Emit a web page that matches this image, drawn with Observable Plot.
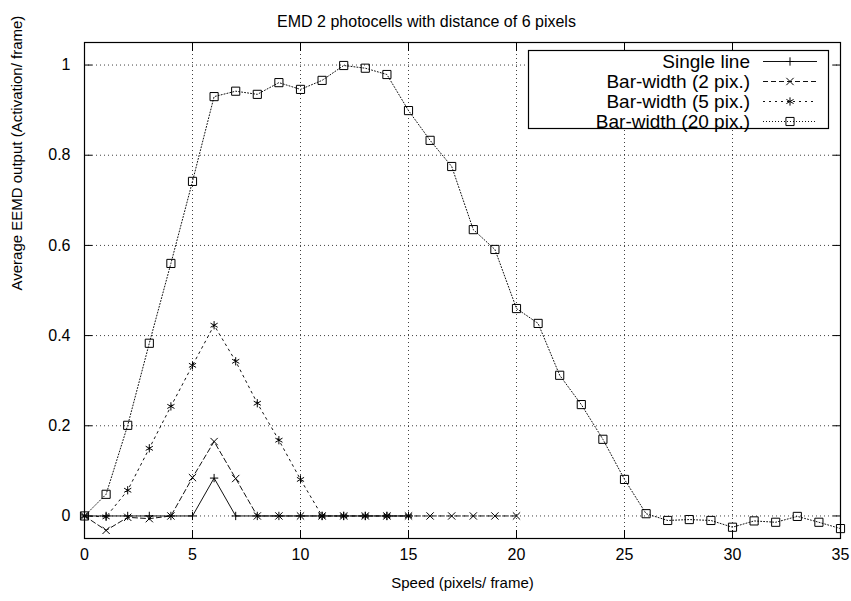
<!DOCTYPE html>
<html><head><meta charset="utf-8">
<script src="https://cdn.jsdelivr.net/npm/d3@7"></script>
<script src="https://cdn.jsdelivr.net/npm/@observablehq/plot@0.6"></script>
<style>
body{margin:0;background:#fff;}
#wrap{position:relative;width:851px;height:601px;font-family:"Liberation Sans",Arial,Helvetica,sans-serif;}
#wrap svg{position:absolute;left:0;top:0;}
</style></head><body><div id="wrap"></div>
<script>
// ---- data ----
const speeds = [0,1,2,3,4,5,6,7,8,9,10,11,12,13,14,15,16,17,18,19,20,21,22,23,24,25,26,27,28,29,30,31,32,33,34,35];
const singleLine = [0,0,0,0,0,0,0.084,0,0,0,0,0,0,0,0,0];
const barWidth2  = [0,-0.032,-0.003,-0.006,0,0.085,0.165,0.083,0,0,0,0,0,0,0,0,0,0,0,0,0];
const barWidth5  = [0,-0.002,0.057,0.150,0.243,0.334,0.423,0.343,0.250,0.168,0.081,0,0,0,0,0];
const barWidth20 = [0,0.048,0.201,0.383,0.560,0.742,0.930,0.942,0.935,0.961,0.946,0.966,0.999,0.993,0.979,0.899,
                    0.833,0.775,0.635,0.591,0.460,0.427,0.312,0.247,0.170,0.081,0.005,-0.010,-0.008,-0.010,
                    -0.025,-0.011,-0.014,-0.001,-0.014,-0.028];
const seriesNames = ["Single line","Bar-width (2 pix.)","Bar-width (5 pix.)","Bar-width (20 pix.)"];
const seriesValues = [singleLine, barWidth2, barWidth5, barWidth20];
const xTicks = [0,5,10,15,20,25,30,35];
const xTickLabels = ["0","5","10","15","20","25","30","35"];
const yTicks = [0,0.2,0.4,0.6,0.8,1];
const yTickLabels = ["0","0.2","0.4","0.6","0.8","1"];
const titleText = "EMD 2 photocells with distance of 6 pixels";
const xLabel = "Speed (pixels/ frame)";
const yLabel = "Average EEMD output (Activation/ frame)";

// ---- styles ----
const styles = [
  {symbol:"plus",     r:2.8,  dash:null},
  {symbol:"times",    r:3.4,  dash:"5,3"},
  {symbol:"asterisk", r:3.9,  dash:"2,4"},
  {symbol:"square",   r:4.6,  dash:"1,2"}
];
const font = '"Liberation Sans",Arial,Helvetica,sans-serif';

const tables = seriesValues.map((vals, s) => vals.map((v, i) => ({x: speeds[i], y: v, s})));

const marks = [
  Plot.gridX(xTicks, {stroke:"#000", strokeOpacity:0.75, strokeDasharray:"1,3"}),
  Plot.gridY(yTicks, {stroke:"#000", strokeOpacity:0.75, strokeDasharray:"1,3"}),
  Plot.frame({stroke:"#000", strokeWidth:1.2}),
  Plot.axisX(xTicks, {anchor:"bottom", tickSize:-8, tickPadding:18, label:null, fontSize:16,
    tickFormat: d => xTickLabels[xTicks.indexOf(d)]}),
  Plot.axisX(xTicks, {anchor:"top", tickSize:-8, label:null, tickFormat: () => ""}),
  Plot.axisY(yTicks, {anchor:"left", tickSize:-8, tickPadding:22, label:null, fontSize:16,
    tickFormat: d => yTickLabels[yTicks.indexOf(d)]}),
  Plot.axisY(yTicks, {anchor:"right", tickSize:-8, label:null, tickFormat: () => ""})
];
tables.forEach((t, s) => {
  marks.push(Plot.line(t, {x:"x", y:"y", stroke:"#111", strokeWidth:1,
    strokeDasharray: styles[s].dash ?? undefined}));
});
tables.forEach((t, s) => {
  marks.push(Plot.dot(t, {x:"x", y:"y", symbol: () => styles[s].symbol, r: styles[s].r,
    stroke:"#000", fill:"none", strokeWidth:1}));
});
marks.push(Plot.text([titleText], {frameAnchor:"top", dy:-27, dx:-36, fontSize:16, text: d => d}));
marks.push(Plot.text([xLabel], {frameAnchor:"bottom", dy:49, fontSize:15, text: d => d}));
marks.push(Plot.text([yLabel], {frameAnchor:"left", dx:-67, rotate:-90, fontSize:15, text: d => d}));

const chart = Plot.plot({
  width: 851, height: 601,
  marginTop: 42, marginRight: 11, marginBottom: 63, marginLeft: 84,
  x: {domain: [0, 35]},
  y: {domain: [-0.05, 1.05]},
  symbol: {type: "identity"},
  style: {fontFamily: font, fontSize: "16px", background: "#fff", color: "#000"},
  marks
});
document.getElementById("wrap").appendChild(chart);

// ---- legend (overlay) ----
const leg = d3.create("svg").attr("width", 851).attr("height", 601)
  .style("pointer-events","none").style("font-family", font);
leg.append("rect").attr("x", 528.5).attr("y", 50.5).attr("width", 300).attr("height", 78)
  .attr("fill", "#fff").attr("stroke", "#000").attr("stroke-width", 1.2);
const symMap = {plus: d3.symbolPlus, times: d3.symbolTimes, asterisk: d3.symbolAsterisk, square: d3.symbolSquare};
seriesNames.forEach((name, i) => {
  const cy = 61 + i * 20;
  leg.append("text").attr("x", 750).attr("y", cy).attr("dy", "0.35em")
    .attr("text-anchor", "end").attr("font-size", 19).text(name);
  leg.append("line").attr("x1", 763).attr("x2", 817).attr("y1", cy + 0.5).attr("y2", cy + 0.5)
    .attr("stroke", "#111").attr("stroke-dasharray", styles[i].dash);
  const r = styles[i].r;
  leg.append("path").attr("transform", `translate(790,${cy + 0.5})`)
    .attr("d", d3.symbol(symMap[styles[i].symbol], Math.PI * r * r)())
    .attr("fill", "none").attr("stroke", "#000");
});
document.getElementById("wrap").appendChild(leg.node());
</script>
</body></html>
